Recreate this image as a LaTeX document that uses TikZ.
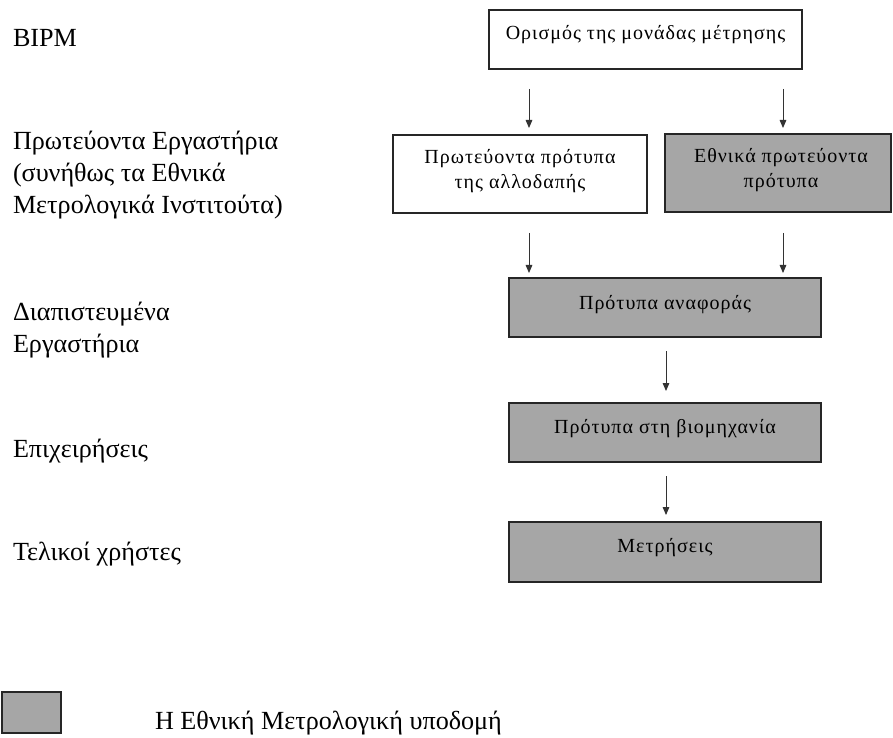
\documentclass[tikz,border=0pt]{standalone}
\usepackage{fontspec}
\setmainfont{Liberation Serif}
\newfontfamily\boxfont[LetterSpace=5]{Liberation Serif}
\usetikzlibrary{arrows.meta}
\newdimen\pxu \pxu=0.75pt
\begin{document}
\begin{tikzpicture}[x=0.75pt,y=-0.75pt,
  every node/.style={inner sep=0pt,outer sep=0pt},
  stagebox/.style={draw=black!85,line width=1.5pt,fill=white,anchor=north west,rectangle},
  natbox/.style={stagebox,fill=natgray},
  boxtext/.style={anchor=base,align=center,font=\boxfont\fontsize{15pt}{18.75pt}\selectfont,text=black},
  lefttext/.style={anchor=base west,align=left,font=\fontsize{19.6pt}{24pt}\selectfont},
  arr/.style={draw=black!80,line width=0.65pt,-{Triangle[length=6pt,width=5pt]}}
]
\definecolor{natgray}{HTML}{A6A6A6}
\useasboundingbox (0,0) rectangle (893,738);
% boxes
\node[stagebox,minimum width=313\pxu,minimum height=59\pxu] (b1) at (489,10) {};
\node[stagebox,minimum width=254\pxu,minimum height=78\pxu] (b2a) at (393,135) {};
\node[natbox,minimum width=226\pxu,minimum height=78\pxu] (b2b) at (665,134) {};
\node[natbox,minimum width=312\pxu,minimum height=59\pxu] (b3) at (509,278) {};
\node[natbox,minimum width=312\pxu,minimum height=59\pxu] (b4) at (509,403) {};
\node[natbox,minimum width=312\pxu,minimum height=60\pxu] (b5) at (509,522) {};
\node[natbox,minimum width=59\pxu,minimum height=41\pxu] (leg) at (2,692) {};
% box texts
\node[boxtext] (t1) at (645.5,40) {Ορισμός της μονάδας μέτρησης};
\node[boxtext] (t2a) at (520,189) {Πρωτεύοντα πρότυπα\\της αλλοδαπής};
\node[boxtext] (t2b) at (781,188) {Εθνικά πρωτεύοντα\\πρότυπα};
\node[boxtext] (t3) at (665,309) {Πρότυπα αναφοράς};
\node[boxtext] (t4) at (665,433) {Πρότυπα στη βιομηχανία};
\node[boxtext] (t5) at (665,552) {Μετρήσεις};
% left labels
\node[lefttext] (l1) at (13,47) {BIPM};
\node[lefttext] (l2) at (13,214) {Πρωτεύοντα Εργαστήρια\\(συνήθως τα Εθνικά\\Μετρολογικά Ινστιτούτα)};
\node[lefttext] (l3) at (13,352) {Διαπιστευμένα\\Εργαστήρια};
\node[lefttext] (l4) at (13,457) {Επιχειρήσεις};
\node[lefttext] (l5) at (13,560) {Τελικοί χρήστες};
\node[lefttext] (l6) at (155,729) {Η Εθνική Μετρολογική υποδομή};
% arrows
\coordinate (xL) at (529,0);
\coordinate (xR) at (783,0);
\coordinate (xM) at (666,0);
\draw[arr,shorten <=15pt,shorten >=5.25pt] (b1.south -| xL) -- (b2a.north -| xL);
\draw[arr,shorten <=15pt,shorten >=4.5pt] (b1.south -| xR) -- (b2b.north -| xR);
\draw[arr,shorten <=15pt,shorten >=3.75pt] (b2a.south -| xL) -- (b3.north -| xL);
\draw[arr,shorten <=15.75pt,shorten >=3.75pt] (b2b.south -| xR) -- (b3.north -| xR);
\draw[arr,shorten <=10.5pt,shorten >=9pt] (b3.south -| xM) -- (b4.north -| xM);
\draw[arr,shorten <=10.5pt,shorten >=5.25pt] (b4.south -| xM) -- (b5.north -| xM);
\end{tikzpicture}
\end{document}
